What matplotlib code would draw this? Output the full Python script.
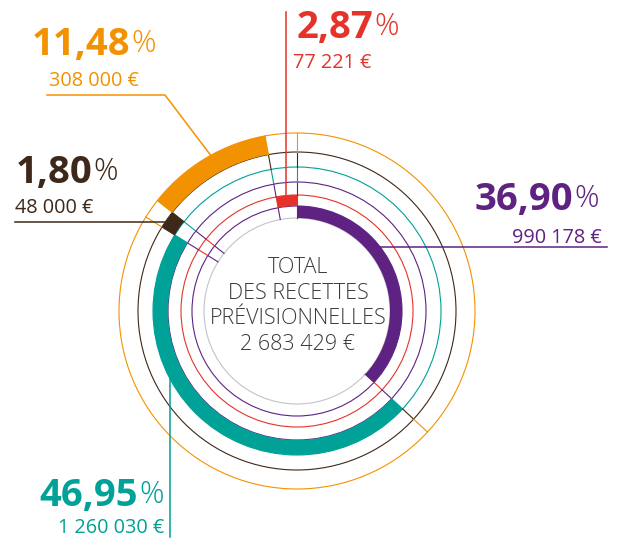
import numpy as np
import matplotlib
matplotlib.use('Agg')
import matplotlib.pyplot as plt
from matplotlib.patches import Wedge, Circle

# recettes previsionnelles (ordre horaire depuis midi)
amounts = [990178, 1260030, 48000, 308000, 77221]
pct_labels = ['36,90', '46,95', '1,80', '11,48', '2,87']
amount_labels = ['990 178 €', '1 260 030 €', '48 000 €', '308 000 €', '77 221 €']
center_lines = ['TOTAL', 'DES RECETTES', 'PRÉVISIONNELLES', '2 683 429 €']

colors = ['#5e2282', '#00a196', '#3d2819', '#f39200', '#e5332a']
gray = '#c4c4c4'

plt.rcParams['font.family'] = ['Open Sans', 'DejaVu Sans']

cx, cy = 297, 311
# radial band (inner, outer) of each category
bands = [(93, 105), (129, 144), (144, 159), (159, 178), (105, 116)]
# thin guide circles
ring_r = [93, 105, 116, 129, 144, 159, 178]
ring_c = [gray, colors[0], colors[4], colors[0], colors[1], colors[2], colors[3]]


def pt(a, r):
    """point at angle a (deg, clockwise from top) and radius r, screen coords"""
    t = np.radians(a)
    return cx + r * np.sin(t), cy - r * np.cos(t)


fig = plt.figure(figsize=(6.19, 5.40), dpi=100)
ax = fig.add_axes([0, 0, 1, 1])
ax.set_xlim(0, 619)
ax.set_ylim(540, 0)
ax.axis('off')

vals = np.array(amounts, dtype=float)
ends = np.cumsum(vals) / vals.sum() * 360
starts = ends - vals / vals.sum() * 360

# guide circles
for r, c in zip(ring_r, ring_c):
    ax.add_patch(Circle((cx, cy), r, fill=False, ec=c, lw=0.8, zorder=1))

# radial separators, each piece coloured like the circle at its outer end
for a in starts:
    for i in range(len(ring_r) - 1):
        x0, y0 = pt(a, ring_r[i])
        x1, y1 = pt(a, ring_r[i + 1])
        ax.plot([x0, x1], [y0, y1], color=ring_c[i + 1], lw=0.8, zorder=1)

# thick arcs
for s, e, (ri, ro), c in zip(starts, ends, bands, colors):
    ax.add_patch(Wedge((cx, cy), ro, s - 90, e - 90, width=ro - ri,
                       fc=c, ec='none', zorder=3))

# leader lines
lw = 1.1
# purple -> right
y = 247
x = cx + np.sqrt(bands[0][1] ** 2 - (y - cy) ** 2)
ax.plot([x, 607], [y, y], color=colors[0], lw=lw, zorder=2)
# teal -> down
x = 170
y = cy + np.sqrt(bands[1][1] ** 2 - (x - cx) ** 2)
ax.plot([x, x], [y, 537], color=colors[1], lw=lw, zorder=2)
# brown -> left
y = 222
x = cx - np.sqrt(bands[2][1] ** 2 - (y - cy) ** 2)
ax.plot([x, 15], [y, y], color=colors[2], lw=lw, zorder=2)
# orange -> up left
x0, y0 = pt(331, bands[3][1])
ax.plot([x0, 165, 47], [y0, 95, 95], color=colors[3], lw=lw, zorder=2)
# red -> up
x = 286
y = cy - np.sqrt(bands[4][1] ** 2 - (x - cx) ** 2)
ax.plot([x, x], [y, 12], color=colors[4], lw=lw, zorder=2)

# labels: junction between number and %, baseline, amount position
num_pos = [(573, 210), (138, 506), (92, 183), (130, 55), (373, 38)]
amt_pos = [(602, 243, 'right'), (164, 533, 'right'), (15, 213, 'left'),
           (49, 86, 'left'), (293, 68, 'left')]

for i in range(len(amounts)):
    jx, by = num_pos[i]
    ax.text(jx, by, pct_labels[i], color=colors[i], fontsize=27.5,
            fontweight='bold', ha='right', va='baseline')
    ax.text(jx + 1, by - 3, '%', color=colors[i], fontsize=22,
            fontweight='light', ha='left', va='baseline')
    ax_, ay, ha = amt_pos[i]
    ax.text(ax_, ay, amount_labels[i], color=colors[i], fontsize=14.3,
            ha=ha, va='baseline')

for line, by in zip(center_lines, [273, 299, 324, 350]):
    ax.text(298, by, line, color='#3a3a3a', fontsize=15.5, fontweight='light',
            ha='center', va='baseline')

fig.savefig('out.png', dpi=100)
